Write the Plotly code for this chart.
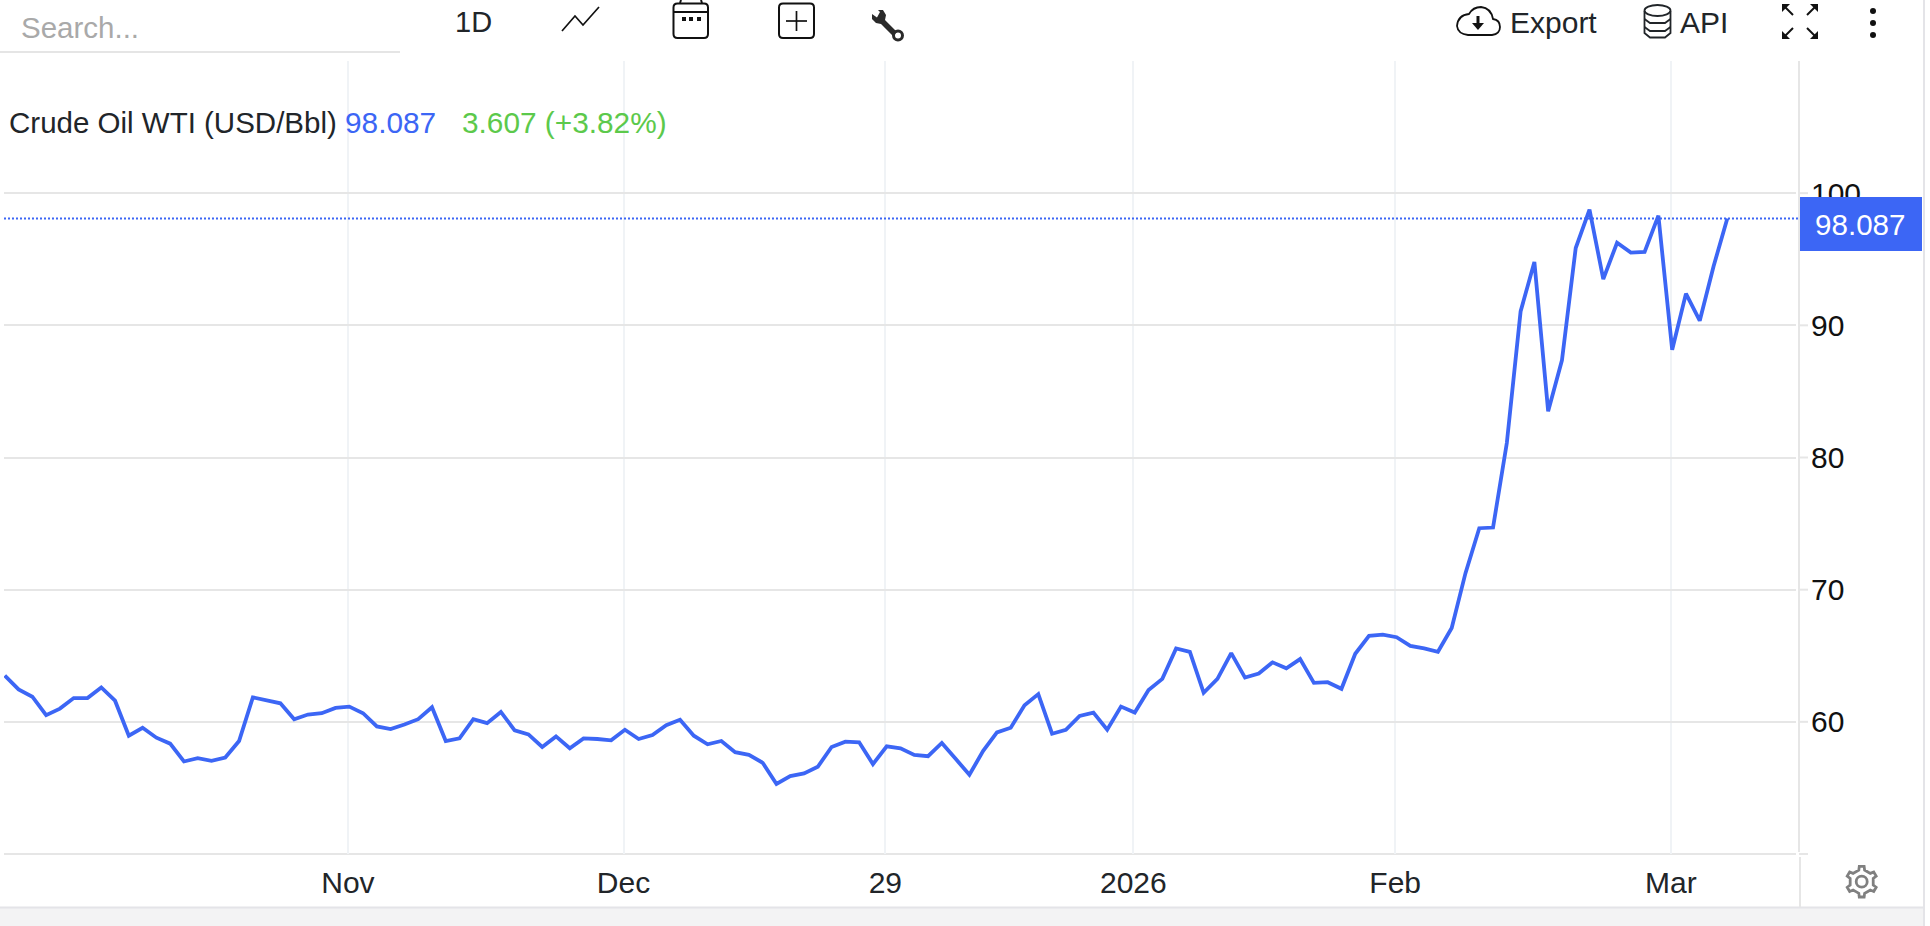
import math
import plotly.graph_objects as go

W, H = 1930, 926
day_index = list(range(126))
wti_price = [
    63.5, 62.45, 61.9, 60.5, 61.0, 61.8, 61.8, 62.6, 61.6, 58.95,
    59.55, 58.8, 58.35, 57.0, 57.25, 57.05, 57.3, 58.55, 61.85, 61.6,
    61.4, 60.2, 60.55, 60.65, 61.05, 61.15, 60.65, 59.65, 59.45, 59.8,
    60.2, 61.1, 58.55, 58.75, 60.2, 59.9, 60.75, 59.35, 59.05, 58.1,
    58.9, 58.0, 58.75, 58.7, 58.6, 59.4, 58.7, 59.0, 59.75, 60.15,
    58.95, 58.3, 58.55, 57.7, 57.5, 56.9, 55.3, 55.9, 56.1, 56.6,
    58.1, 58.5, 58.45, 56.8, 58.15, 58.0, 57.5, 57.4, 58.4, 57.2,
    56.0, 57.8, 59.2, 59.55, 61.25, 62.1, 59.1, 59.4, 60.45, 60.7,
    59.4, 61.15, 60.7, 62.4, 63.25, 65.55, 65.3, 62.2, 63.25, 65.2,
    63.35, 63.65, 64.5, 64.05, 64.75, 62.95, 63.0, 62.5, 65.15, 66.5,
    66.6, 66.4, 65.75, 65.55, 65.3, 67.1, 71.25, 74.65, 74.7, 81.1,
    91.05, 94.8, 83.5, 87.35, 95.85, 98.75, 93.5, 96.25, 95.5, 95.55,
    98.3, 88.15, 92.4, 90.35, 94.45, 98.087,
]
x_tick_positions = [24.9, 44.9, 63.9, 81.9, 100.9, 120.9]
x_tick_labels = ["Nov", "Dec", "29", "2026", "Feb", "Mar"]
y_ticks = [60, 70, 80, 90, 100]

BLUE = "#3c66f5"
INK = "#212529"
FONT = "Liberation Sans"
STEP = 13.78
X0 = 4.8
LEFT, RIGHT, TOP, BOTTOM = 4, 1796, 61, 854


def px(x):
    return x / W


def py(y):
    return 1 - y / H


def P(a, b):
    return f"{px(a):.5f},{py(b):.5f}"


def path(points, close=False):
    d = "M" + " L".join(P(a, b) for a, b in points)
    return d + (" Z" if close else "")


def seg(x0, y0, x1, y1, color="#e6e6e6", width=1.5):
    return dict(type="line", xref="paper", yref="paper", x0=px(x0), x1=px(x1), y0=py(y0), y1=py(y1),
                line=dict(color=color, width=width), layer="below")


def rect(x0, y0, x1, y1, fill=None, color="#111", width=0, layer="above"):
    return dict(type="rect", xref="paper", yref="paper", x0=px(x0), x1=px(x1), y0=py(y0), y1=py(y1),
                fillcolor=fill or "rgba(0,0,0,0)", line=dict(color=color, width=width), layer=layer)


def rounded(x0, y0, x1, y1, r=4, width=2):
    d = (f"M{P(x0 + r, y0)} L{P(x1 - r, y0)} Q{P(x1, y0)} {P(x1, y0 + r)} L{P(x1, y1 - r)} Q{P(x1, y1)} {P(x1 - r, y1)} "
         f"L{P(x0 + r, y1)} Q{P(x0, y1)} {P(x0, y1 - r)} L{P(x0, y0 + r)} Q{P(x0, y0)} {P(x0 + r, y0)} Z")
    return dict(type="path", xref="paper", yref="paper", path=d, line=dict(color="#111", width=width), layer="above")


def stroke(points, color="#111", width=1.7):
    return dict(type="path", xref="paper", yref="paper", path=path(points), line=dict(color=color, width=width), layer="above")


def fill(points, color="#111"):
    return dict(type="path", xref="paper", yref="paper", path=path(points, True), fillcolor=color, line=dict(width=0), layer="above")


def circle(cx, cy, rx, ry=None, color="#111", width=2, filled=False):
    ry = rx if ry is None else ry
    return dict(type="circle", xref="paper", yref="paper", x0=px(cx - rx), x1=px(cx + rx), y0=py(cy - ry), y1=py(cy + ry),
                fillcolor=color if filled else "rgba(0,0,0,0)", line=dict(color=color, width=0 if filled else width), layer="above")


def text(x, y, s, size=30, color=INK, anchor="left"):
    return dict(xref="paper", yref="paper", x=px(x), y=py(y), text=s, showarrow=False, xanchor=anchor, yanchor="middle",
                font=dict(family=FONT, size=size, color=color))


def gear(cx, cy):
    pts = []
    for i in range(6):
        a = math.radians(60 * i - 90)
        for da, r in ((-30, 11.5), (-14, 12), (-9, 15.5), (9, 15.5), (14, 12)):
            t = a + math.radians(da)
            pts.append((cx + r * math.cos(t), cy + r * math.sin(t)))
    return stroke(pts + pts[:1], "#808080", 2.8)


fig = go.Figure(go.Scatter(x=day_index, y=wti_price, mode="lines", line=dict(color=BLUE, width=3.8), hoverinfo="skip"))

shapes = [
    rect(0, 907, 1924, H, fill="#f3f3f4", width=0, layer="below"),
    seg(0, 907.5, 1924, 907.5, "#e4e4e8", 2),
    seg(1924, 0, 1924, H, "#e4e4e8", 2),
    seg(0, 52, 400, 52, "#dcdcdc", 1.5),
    seg(1799, 61, 1799, 852, "#e6e6e6", 2),
    seg(1800, 857, 1800, 907, "#e6e6e6", 2),
    seg(LEFT, BOTTOM, RIGHT, BOTTOM, "#e6e6e6", 2),
    seg(1799, BOTTOM, 1808, BOTTOM, "#e6e6e6", 2),
    dict(type="line", xref="paper", yref="y", x0=px(LEFT), x1=px(1798), y0=wti_price[-1], y1=wti_price[-1],
         line=dict(color=BLUE, width=2, dash="2px,2px"), layer="above"),
    rect(1800, 197, 1922, 251, fill=BLUE),
    # line-chart icon
    stroke([(562, 31), (575, 16), (583, 25), (599, 7)]),
    # calendar icon
    rounded(673.5, 3.5, 708, 38),
    stroke([(673.5, 12), (708, 12)], width=2),
    stroke([(680, 3), (681, 0)], width=2),
    stroke([(702, 3), (701, 0)], width=2),
    rect(682, 17, 686, 21, fill="#111"),
    rect(689, 17, 693, 21, fill="#111"),
    rect(697, 17, 701, 21, fill="#111"),
    # add-indicator icon
    rounded(779, 3.5, 814, 38),
    stroke([(796.5, 11), (796.5, 31)]),
    stroke([(786, 21), (807, 21)]),
    # wrench icon
    fill([(872, 14), (877, 17.5), (880, 12), (878, 10), (883, 10), (886, 15), (885, 20), (897, 32), (893, 36), (881, 24),
          (876, 23), (872, 19)], "#2a2a2a"),
    circle(898, 35.5, 4.5, color="#2a2a2a", width=3),
    # cloud
    dict(type="path", xref="paper", yref="paper", layer="above", line=dict(color="#111", width=1.8),
         path=(f"M{P(1468, 35)} L{P(1492, 35)} Q{P(1500, 34)} {P(1500, 27)} Q{P(1500, 20)} {P(1493, 19)} "
               f"Q{P(1491, 8)} {P(1481, 7)} Q{P(1473, 7)} {P(1469, 14)} Q{P(1458, 15)} {P(1457, 26)} Q{P(1458, 34)} {P(1468, 35)} Z")),
    stroke([(1478, 16), (1478, 24)], width=3),
    fill([(1472, 23), (1484, 23), (1478, 30)]),
    # database
    circle(1657.5, 10.5, 13, 5.5, color=INK, width=1.8),
    stroke([(1644.5, 11), (1644.5, 33), (1650, 37.5), (1665, 37.5), (1670.5, 33), (1670.5, 11)], color=INK, width=1.8),
    stroke([(1644.5, 19), (1650, 23), (1665, 23), (1670.5, 19)], color=INK, width=1.8),
    stroke([(1644.5, 27), (1650, 31), (1665, 31), (1670.5, 27)], color=INK, width=1.8),
    # full screen arrows
    stroke([(1784, 6), (1793, 15)], width=2), fill([(1782, 4), (1790, 4), (1782, 12)]),
    stroke([(1816, 6), (1807, 15)], width=2), fill([(1818, 4), (1810, 4), (1818, 12)]),
    stroke([(1784, 37), (1793, 28)], width=2), fill([(1782, 39), (1790, 39), (1782, 31)]),
    stroke([(1816, 37), (1807, 28)], width=2), fill([(1818, 39), (1810, 39), (1818, 31)]),
    # gear
    gear(1861.7, 881.7),
    circle(1861.7, 881.7, 5.5, color="#808080", width=2.8),
]
for dot_y in (11, 23, 35):
    shapes.append(circle(1873, dot_y, 3, filled=True))
for tick in y_ticks:
    shapes.append(dict(type="line", xref="paper", yref="y", x0=px(1799), x1=px(1808), y0=tick, y1=tick,
                       line=dict(color="#e6e6e6", width=2), layer="below"))

annotations = [
    text(19, 28, "Search...", 29.5, "#a9a9a9"),
    text(453, 22, "1D", 29, INK),
    text(1507.5, 23, "Export", 30, INK),
    text(1677.5, 23, "API", 30, INK),
    text(7, 122.5, "Crude Oil WTI (USD/Bbl)", 29.5, INK),
    text(343, 122.5, f"{wti_price[-1]:.3f}", 29.8, BLUE),
    text(460, 122.5, "3.607 (+3.82%)", 29.8, "#5cc94b"),
    text(1860, 225, f"{wti_price[-1]:.3f}", 29.6, "white", "center"),
]

fig.update_layout(
    width=W, height=H, margin=dict(l=0, r=0, t=0, b=0), paper_bgcolor="white", plot_bgcolor="white",
    showlegend=False, shapes=shapes, annotations=annotations,
    font=dict(family=FONT, color=INK),
)
fig.update_xaxes(
    domain=[px(LEFT), px(RIGHT)],
    range=[(LEFT - X0) / STEP, (RIGHT - X0) / STEP],
    tickmode="array", tickvals=x_tick_positions, ticktext=x_tick_labels,
    showgrid=True, gridcolor="#f0f3f6", gridwidth=1.5, zeroline=False, showline=False, ticks="",
    tickfont=dict(family=FONT, size=30, color=INK), ticklabelstandoff=8,
)
fig.update_yaxes(
    domain=[py(BOTTOM), py(TOP)], range=[50, 110], side="right",
    tickmode="array", tickvals=y_ticks, showgrid=True, gridcolor="#e6e6e6", gridwidth=1.5, zeroline=False, showline=False,
    ticks="", ticklabelstandoff=14,
    tickfont=dict(family=FONT, size=30, color="#111"),
)

fig.write_html("out.html", config={"displayModeBar": False},
               post_script="document.body.style.margin='0';document.documentElement.style.overflow='hidden';")
